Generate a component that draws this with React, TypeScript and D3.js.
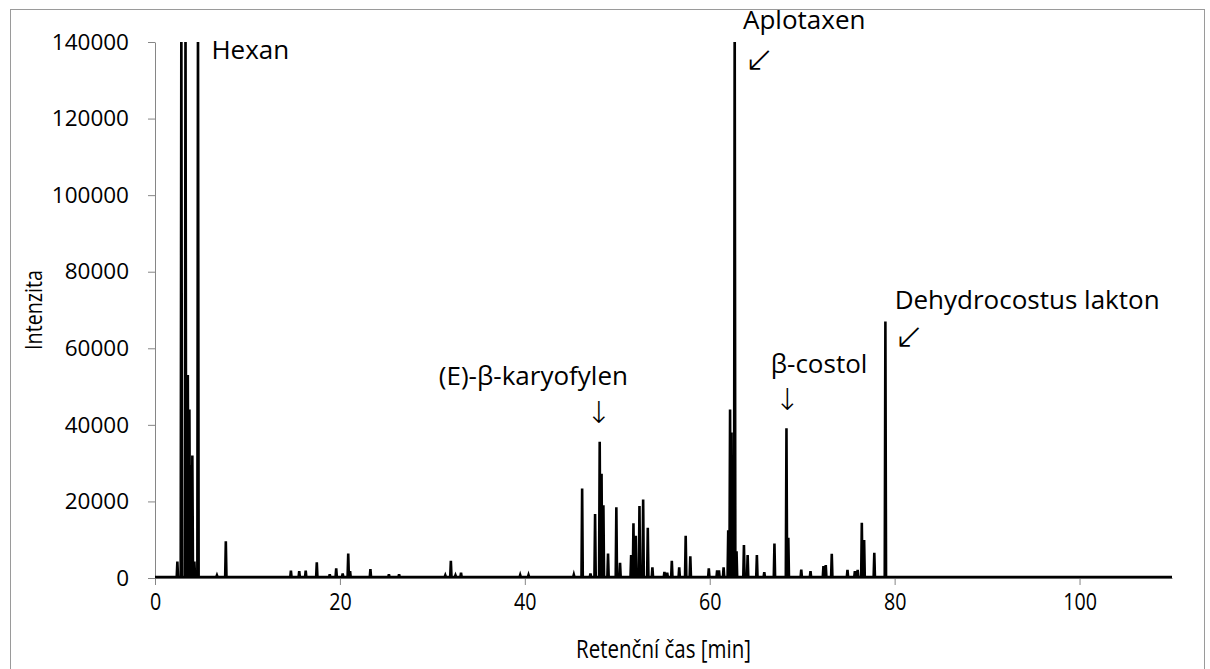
import * as d3 from 'd3';
import { useEffect, useRef } from 'react';

// retention times [min] and intensities
const peakTimes = [
    2.42, 2.85, 3.3, 3.55, 3.72, 3.9, 4.04, 4.26, 4.65, 6.7, 7.66,
    14.7, 15.6, 16.3, 17.5, 18.9, 19.6, 20.3, 20.9, 21.1, 23.3, 25.3, 26.4,
    31.4, 32.0, 32.5, 33.1, 39.5, 40.4, 45.3, 46.2, 47.1, 47.6, 48.1, 48.3,
    48.5, 49.0, 49.9, 50.3, 51.5, 51.75, 52.0, 52.4, 52.8, 53.3, 53.8, 55.1,
    55.4, 55.9, 56.7, 57.4, 57.9, 59.9, 60.8, 61.0, 61.5, 62.0, 62.2, 62.35,
    62.7, 62.9, 63.7, 64.1, 65.1, 65.9, 67.0, 68.3, 68.5, 69.9, 70.9, 72.3,
    72.55, 73.2, 74.9, 75.7, 76.0, 76.45, 76.7, 77.8, 79.0
];
const peakHeights = [
    4300, 150000, 150000, 53000, 44000, 29500, 32000, 4300, 150000, 700, 9600,
    1900, 1800, 1900, 4100, 1000, 2500, 1200, 6400, 1800, 2300, 1000, 1000,
    700, 4500, 700, 1400, 800, 800, 900, 23400, 1200, 16700, 35600, 27200,
    19000, 6400, 18500, 4000, 6000, 14300, 11000, 18800, 20500, 13100, 2800, 1600,
    1400, 4500, 2800, 11000, 5700, 2500, 2000, 2000, 2800, 12500, 44000, 38000,
    150000, 7000, 8600, 6000, 6000, 1500, 9000, 39100, 10500, 2200, 1800, 3100,
    3400, 6300, 2100, 1800, 2100, 14400, 9900, 6600, 67000
];

const xTicks = [0, 20, 40, 60, 80, 100];
const yTicks = [0, 20000, 40000, 60000, 80000, 100000, 120000, 140000];

const labelTexts = ['Hexan', 'Aplotaxen', '(E)-β-karyofylen', 'β-costol', 'Dehydrocostus lakton'];
const labelTimes = [6.1, 63.6, 30.7, 66.6, 80.0];
const labelValues = [137400, 145300, 52200, 55400, 72100];
const arrowChars = ['', '↙', '↓', '↓', '↙'];
const arrowTimes = [0, 65.4, 48.0, 68.4, 81.6];
const arrowValues = [0, 135000, 42600, 46000, 62700];

const BASE = 250;
const HALF_WIDTH = 0.07;

const sans = "'Open Sans', sans-serif";
const NARROW = 0.82; // horizontal squeeze for the condensed axis font

const Chromatogram = () => {
    const ref = useRef<SVGSVGElement | null>(null);

    useEffect(() => {
        if (!ref.current) return;
        const svg = d3.select(ref.current);
        svg.selectAll('*').remove();

        const margin = { top: 42, right: 38, bottom: 91, left: 155 };
        const width = 1210 - margin.left - margin.right;
        const height = 669 - margin.top - margin.bottom;

        // chart frame
        svg.append('rect')
            .attr('x', 10.5).attr('y', 9.5)
            .attr('width', 1194).attr('height', 700)
            .attr('fill', 'white').attr('stroke', '#9a9a9a');

        const g = svg.append('g').attr('transform', `translate(${margin.left},${margin.top})`);

        const x = d3.scaleLinear().domain([0, 110]).range([0, width]);
        const y = d3.scaleLinear().domain([0, 140000]).range([height, 0]);

        svg.append('defs').append('clipPath').attr('id', 'plotClip')
            .append('rect').attr('x', 0).attr('y', 0).attr('width', width).attr('height', height + 5);

        const xAxis = g.append('g')
            .attr('transform', `translate(0,${height})`)
            .call(d3.axisBottom(x).tickValues(xTicks).tickSize(7).tickSizeOuter(0).tickPadding(8));
        xAxis.select('.domain').attr('stroke', '#868686');
        xAxis.selectAll('.tick line').attr('stroke', '#868686');
        xAxis.selectAll('text')
            .attr('fill', '#000')
            .attr('transform', `scale(${NARROW},1)`)
            .style('font-family', sans).style('font-size', '24px');

        const yAxis = g.append('g')
            .call(d3.axisLeft(y).tickValues(yTicks).tickFormat(d3.format('d')).tickSize(7).tickSizeOuter(0).tickPadding(19));
        yAxis.select('.domain').attr('stroke', '#868686');
        yAxis.selectAll('.tick line').attr('stroke', '#868686');
        yAxis.selectAll('text').attr('fill', '#000').style('font-family', sans).style('font-size', '22.5px');

        // build trace: each peak is a narrow spike on the baseline
        const order = d3.range(peakTimes.length).sort((a, b) => peakTimes[a] - peakTimes[b]);
        const pts: [number, number][] = [[0, BASE]];
        order.forEach(i => {
            pts.push([peakTimes[i] - HALF_WIDTH, BASE]);
            pts.push([peakTimes[i], peakHeights[i]]);
            pts.push([peakTimes[i] + HALF_WIDTH, BASE]);
        });
        pts.push([110, BASE]);

        const line = d3.line<[number, number]>()
            .x(d => x(d[0]))
            .y(d => y(d[1]));

        g.append('path')
            .datum(pts)
            .attr('clip-path', 'url(#plotClip)')
            .attr('fill', 'none')
            .attr('stroke', '#000')
            .attr('stroke-width', 2.6)
            .attr('d', line);

        // annotations
        labelTexts.forEach((t, i) => {
            g.append('text')
                .attr('x', x(labelTimes[i]))
                .attr('y', y(labelValues[i]))
                .attr('dominant-baseline', 'middle')
                .style('font-family', sans)
                .style('font-size', '26px')
                .text(t);
            if (arrowChars[i]) {
                g.append('text')
                    .attr('x', x(arrowTimes[i]))
                    .attr('y', y(arrowValues[i]))
                    .attr('text-anchor', 'middle')
                    .attr('dominant-baseline', 'middle')
                    .style('font-family', "'DejaVu Sans', sans-serif")
                    .style('font-size', arrowChars[i] === '↓' ? '30px' : '36px')
                    .style('font-weight', 300)
                    .text(arrowChars[i]);
            }
        });

        g.append('text')
            .attr('transform', `translate(${width / 2},${height + 80}) scale(${NARROW},1)`)
            .attr('text-anchor', 'middle')
            .style('font-family', sans)
            .style('font-size', '25px')
            .text('Retenční čas [min]');

        g.append('text')
            .attr('transform', `translate(-113,${height / 2}) rotate(-90) scale(${NARROW},1)`)
            .attr('text-anchor', 'middle')
            .style('font-family', sans)
            .style('font-size', '24px')
            .text('Intenzita');
    }, []);

    return <svg ref={ref} width={1210} height={669} style={{ display: 'block' }} />;
};

export default function App() {
    return (
        <div style={{ position: 'absolute', left: 0, top: 0 }}>
            <Chromatogram />
        </div>
    );
}
